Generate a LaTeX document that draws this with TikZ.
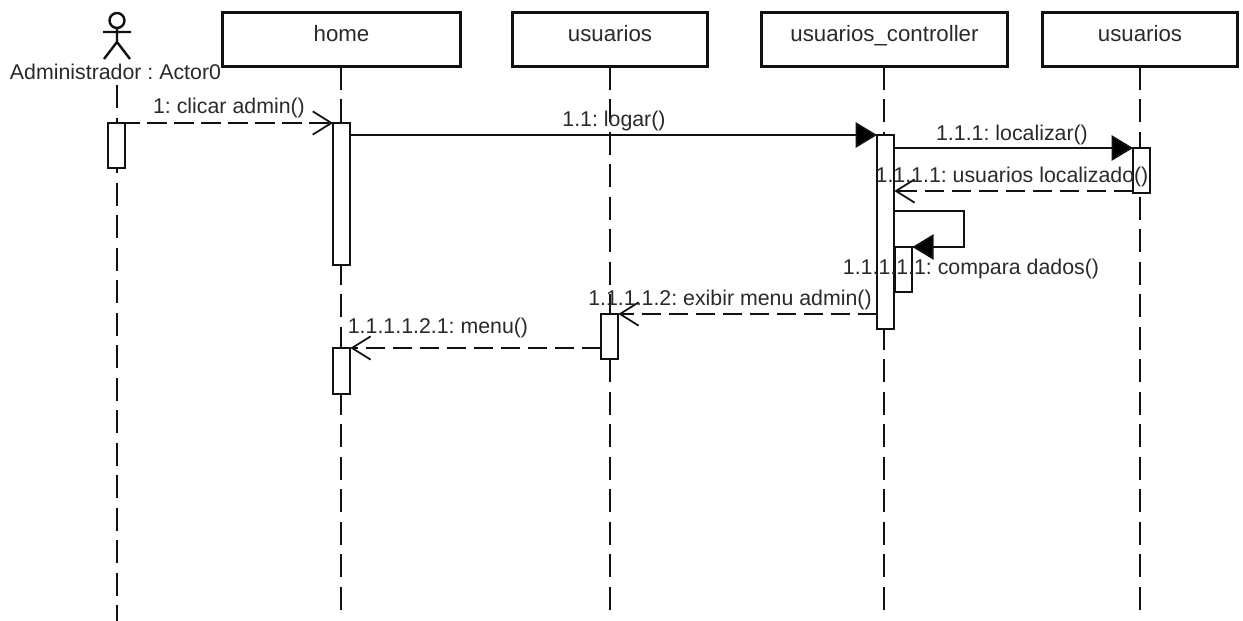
\documentclass[tikz,border=0pt]{standalone}
\usepackage{fontspec}
\setmainfont{Liberation Sans}
\usetikzlibrary{arrows.meta,calc}
\definecolor{ink}{HTML}{111111}
\definecolor{txt}{HTML}{2A2A2A}
\tikzset{
  objbox/.style={draw=ink,line width=2.3pt,fill=white,minimum width=#1*0.75pt,minimum height=40.5pt,inner sep=0pt,outer sep=0pt,anchor=north west,text=txt,font=\fontsize{16.7}{18}\selectfont,text height=8pt,text depth=5.5pt},
  bar/.style={draw=ink,line width=1.4pt,fill=white,minimum width=13pt,minimum height=#1*0.75pt,inner sep=0pt,outer sep=0pt,anchor=north west},
  life/.style={draw=ink,line width=1.4pt,dash pattern=on 17.25pt off 7.125pt},
  lbl/.style={font=\fontsize{16}{18}\selectfont,text=txt,inner sep=0pt},
  sync/.style={draw=ink,line width=1.3pt,-{Triangle[length=16pt,width=19pt,fill=black]}},
  reply/.style={draw=ink,line width=1.3pt,dash pattern=on 14.6pt off 5.65pt,-{Straight Barb[length=14pt,width=17.5pt,line width=1.3pt]}},
  selfline/.style={draw=ink,line width=1.3pt},
  figure/.style={draw=ink,line width=1.8pt},
}
\begin{document}
\frenchspacing
\begin{tikzpicture}[x=0.75pt,y=-0.75pt]
\useasboundingbox (0,0) rectangle (1243,621);
\fill[white] (0,0) rectangle (1243,621);
% objects
\node[objbox=238] (home) at (222.5,12.5) {home};
\node[objbox=195] (usr) at (512.5,12.5) {usuarios};
\node[objbox=246] (ctl) at (761.5,12.5) {usuarios\_controller};
\node[objbox=195] (usb) at (1042.5,12.5) {usuarios};
\node[lbl] (actorlbl) at (115.5,72) {Administrador : Actor0};
% lifeline ends
\coordinate (endA) at (117,621);
\coordinate (endH) at (341,610);
\coordinate (endU) at (610,610);
\coordinate (endC) at (884,610);
\coordinate (endB) at (1140,610);
\coordinate (startA) at (117,85);
\draw[life] (startA) -- (endA);
\draw[life] (home.south -| endH) -- (endH);
\draw[life] (usr.south -| endU) -- (endU);
\draw[life] (ctl.south -| endC) -- (endC);
\draw[life] (usb.south -| endB) -- (endB);
% actor
\draw[figure] (117,20.5) circle (7.5);
\draw[figure] (117,28) -- (117,42) (103,32) -- (131,32) (104,59) -- (117,42) -- (130,59);
% activations
\node[bar=45] (a1) at (108,123) {};
\node[bar=142] (h1) at (333,123) {};
\node[bar=46] (h2) at (333,348) {};
\node[bar=45] (u1) at (601,314) {};
\node[bar=194] (c1) at (877,135) {};
\node[bar=45] (c2) at (895,247) {};
\node[bar=45] (b1) at (1133,148) {};
% messages
\draw[reply,dash phase=3.75pt] (a1.north east) -- (h1.north west);
\draw[sync] ($(h1.north east)+(0,12)$) -- (c1.north west);
\draw[sync] ($(c1.north east)+(0,13)$) -- (b1.north west);
\draw[reply] ($(b1.south west)+(0,-2)$) -- ($(c1.north east)+(0,56)$);
\draw[selfline] ($(c1.north east)+(0,76)$) -- (964,211) -- (964,247) -- (c2.north east);
\draw[sync] (964,247) -- (c2.north east);
\draw[reply] ($(c1.south west)+(0,-15)$) -- (u1.north east);
\draw[reply] ($(u1.south west)+(0,-11)$) -- (h2.north east);
% labels
\node[lbl] (m1) at (229,108) {1: clicar admin()};
\node[lbl] (m2) at (614,121) {1.1: logar()};
\node[lbl] (m3) at (1012,135) {1.1.1: localizar()};
\node[lbl] (m4) at (1012,177) {1.1.1.1: usuarios localizado()};
\node[lbl] (m5) at (971,269) {1.1.1.1.1: compara dados()};
\node[lbl] (m6) at (730,300) {1.1.1.1.2: exibir menu admin()};
\node[lbl] (m7) at (438,328) {1.1.1.1.2.1: menu()};
\end{tikzpicture}
\end{document}
